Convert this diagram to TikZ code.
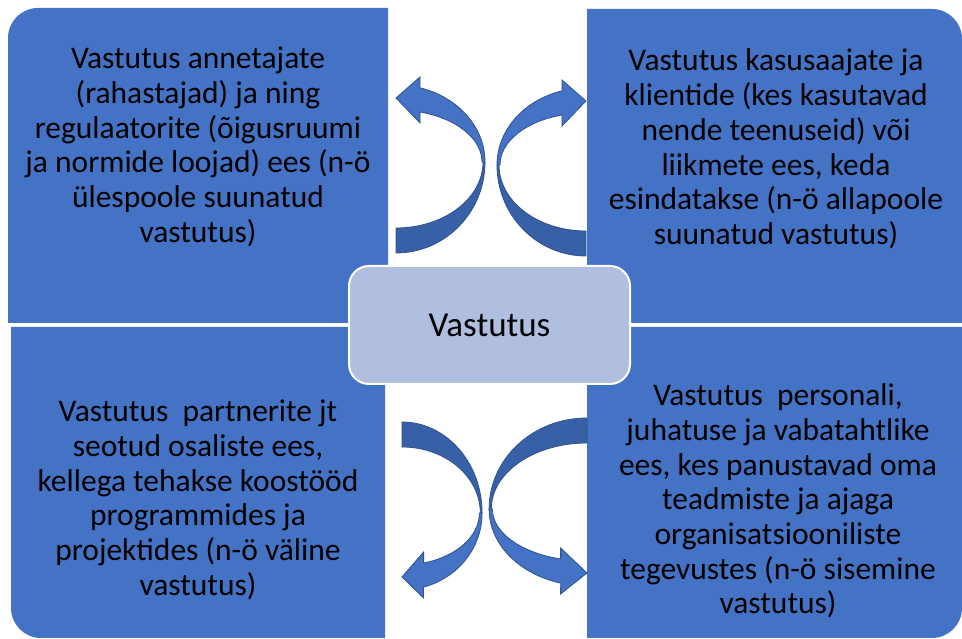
\documentclass[tikz,border=0pt]{standalone}
\usepackage{fontspec}
\setmainfont{Carlito}
\usepackage{xcolor}
\usetikzlibrary{positioning}
\definecolor{boxblue}{HTML}{4472C4}
\definecolor{arrowedge}{HTML}{2F528F}
\definecolor{arrowback}{HTML}{3760A6}
\definecolor{centerfill}{HTML}{B0BEE0}

\begin{document}
\begin{tikzpicture}[
        x=1pt, y=1pt,
        quadrant/.style={fill=boxblue},
        quadtext/.style={align=center, text=black, font=\fontsize{31.5}{34.7}\selectfont},
        centerbox/.style={rectangle, rounded corners=20pt, draw=white, line width=2pt, fill=centerfill, minimum width=281pt, minimum height=118pt, text centered, font=\fontsize{35}{42}\selectfont},
        curvarrow/.pic={
            % back side of the band
            \filldraw[fill=arrowback, draw=arrowedge, line width=0.8pt] (0,-66) arc[start angle=-90, end angle=0, x radius=87pt, y radius=66pt] -- (89,0) arc[start angle=0, end angle=-90, x radius=89pt, y radius=91pt] -- cycle;
            % front side with head
            \filldraw[fill=boxblue, draw=arrowedge, line width=0.8pt] (89,0) arc[start angle=0, end angle=74.4, x radius=89pt, y radius=77pt] -- (24,85) -- (0,64) -- (24,39) -- (24,50) arc[start angle=73.8, end angle=0, x radius=86pt, y radius=52pt] -- cycle;
        }
    ]
    \useasboundingbox (0,0) rectangle (962,639);

    % Quadrants
    \fill[quadrant] (8,316) -- (8,601) arc[start angle=180, end angle=90, radius=30pt] -- (388,631) -- (388,316) -- cycle;
    \fill[quadrant] (587,316) -- (587,630) -- (932,630) arc[start angle=90, end angle=0, radius=30pt] -- (962,316) -- cycle;
    \fill[quadrant] (11,312) -- (11,31) arc[start angle=180, end angle=270, radius=30pt] -- (385,1) -- (385,312) -- cycle;
    \fill[quadrant] (587,312) -- (587,1) -- (932,1) arc[start angle=270, end angle=360, radius=30pt] -- (962,312) -- cycle;

    % Nodes
    \node (TopLeft) [quadtext] at (198,492) {Vastutus annetajate\\(rahastajad) ja ning\\regulaatorite (õigusruumi\\ja normide loojad) ees (n-ö\\ülespoole suunatud\\vastutus)};
    \node (TopRight) [quadtext] at (776,490) {Vastutus kasusaajate ja\\klientide (kes kasutavad\\nende teenuseid) või\\liikmete ees, keda\\esindatakse (n-ö allapoole\\suunatud vastutus)};
    \node (BottomLeft) [quadtext] at (198,139) {Vastutus\ \ partnerite jt\\seotud osaliste ees,\\kellega tehakse koostööd\\programmides ja\\projektides (n-ö väline\\vastutus)};
    \node (BottomRight) [quadtext] at (778,138) {Vastutus\ \ personali,\\juhatuse ja vabatahtlike\\ees, kes panustavad oma\\teadmiste ja ajaga\\organisatsiooniliste\\tegevustes (n-ö sisemine\\vastutus)};

    % Curved arrows
    \pic at (396,477) {curvarrow};
    \pic[xscale=-1] at (586,474) {curvarrow};
    \pic[xscale=0.9, yscale=-1] at (402,126) {curvarrow};
    \pic[xscale=-1.1, yscale=-1] at (587,130) {curvarrow};

    % Centre
    \node (Centre) [centerbox] at (489.5,314) {Vastutus};

\end{tikzpicture}
\end{document}
